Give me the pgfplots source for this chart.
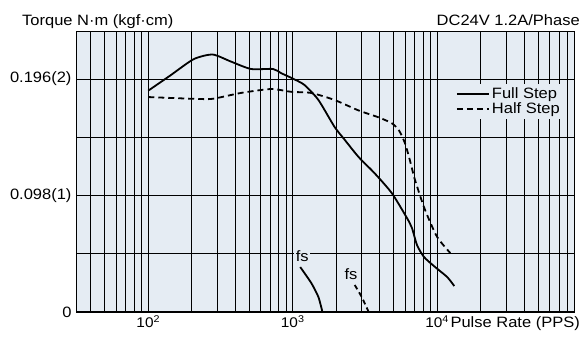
\documentclass[border=0pt]{standalone}
\usepackage{pgfplots}
\pgfplotsset{compat=1.18}
\usepackage{fontspec}
\setmainfont{Liberation Sans}[FakeStretch=1.1]
\definecolor{bg}{RGB}{229,236,243}

\begin{document}
\begin{tikzpicture}[font=\fontsize{15}{18}\selectfont]
\begin{axis}[
  at={(0pt,0pt)}, anchor=south west,
  scale only axis, width=499pt, height=280.3pt,
  xmode=log, xmin=31.6, xmax=90000, ymin=0, ymax=2.406,
  axis background/.style={fill=bg},
  xtick={100,1000,10000},
  xticklabels={10\textsuperscript{2},10\textsuperscript{3},{10\textsuperscript{4}\hspace{10pt}}},
  minor xtick={40,50,60,70,80,90,200,300,400,500,600,700,800,900,2000,3000,4000,5000,6000,7000,8000,9000,20000,30000,40000,50000,60000,70000,80000},
  ytick={0,1,2}, yticklabels={0,0.098(1),0.196(2)},
  minor ytick={0.5,1.5},
  xmajorgrids, xminorgrids, ymajorgrids, yminorgrids,
  major grid style={black,line width=0.8pt},
  minor grid style={black,line width=0.8pt},
  major tick length=0pt, minor tick length=0pt,
  axis line style={black,line width=1pt},
  xticklabel style={font=\fontsize{14}{16}\selectfont},
  yticklabel style={xshift=-1pt},
  legend style={at={(rel axis cs:0.755,0.815)}, anchor=north west, fill=bg, draw=none,
    font=\fontsize{15}{18}\selectfont, row sep=-1pt},
  legend cell align=left,
  legend image code/.code={\draw[#1, line width=2pt, solid] (0pt,0pt) -- (32pt,0pt);},
]
\addplot[black, line width=1.8pt, smooth, tension=0.4] coordinates {
(100,1.90) (142,2.03) (206,2.17) (279,2.21) (373,2.15) (514,2.086) (731,2.086)
(832,2.05) (977,2.01) (1202,1.95) (1506,1.82) (1946,1.59) (2284,1.48) (2860,1.33)
(3697,1.19) (4856,1.02) (6177,0.807) (6692,0.721) (7253,0.575) (8110,0.472)
(9680,0.386) (11740,0.30) (13130,0.223)
};
\addlegendentry{Full Step}
\addplot[black, line width=1.8pt, dash pattern=on 6pt off 4pt, smooth, tension=0.4,
  legend image code/.code={\draw[black, line width=2pt, dash pattern=on 6pt off 4pt] (0pt,0pt) -- (32pt,0pt);}] coordinates {
(100,1.845) (206,1.83) (279,1.83) (437,1.88) (707,1.914) (977,1.89) (1344,1.88)
(1946,1.82) (2860,1.73) (3945,1.67) (4856,1.62) (5433,1.56) (5983,1.45) (6484,1.30)
(7025,1.133) (8245,0.876) (10000,0.644) (12330,0.506)
};
\addlegendentry{Half Step}
\addplot[black, line width=1.8pt, smooth, tension=0.4, forget plot] coordinates {
(1127,0.386) (1344,0.249) (1506,0.129) (1606,0)
};
\addplot[black, line width=1.8pt, dash pattern=on 5pt off 3.5pt, smooth, tension=0.4, forget plot] coordinates {
(2687,0.232) (3000,0.13) (3357,0)
};
\node[fill=bg, inner sep=1.5pt] at (axis cs:1164,0.476) {fs};
\node[fill=bg, inner sep=1.5pt] at (axis cs:2535,0.322) {fs};
\node[anchor=north, inner sep=0pt, font=\fontsize{7}{7}\selectfont] at (axis cs:59,0.005) {w};
\draw[black, line width=2pt] (rel axis cs:0,1) -- (rel axis cs:0,0) -- (rel axis cs:1,0);
\end{axis}
\node[anchor=base west, inner sep=0pt] at (-54pt,286pt) {Torque N·m (kgf·cm)};
\node[anchor=base east, inner sep=0pt] at (504pt,286pt) {DC24V 1.2A/Phase};
\node[anchor=base east, inner sep=0pt] at (504pt,-16pt) {Pulse Rate (PPS)};
\pgfresetboundingbox
\path[use as bounding box] (-76pt,-26pt) rectangle (506pt,312pt);
\end{tikzpicture}
\end{document}
